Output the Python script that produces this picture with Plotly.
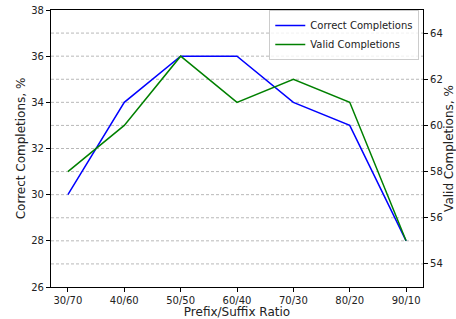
import plotly.graph_objects as go

ratios = ["30/70", "40/60", "50/50", "60/40", "70/30", "80/20", "90/10"]
correct = [30, 34, 36, 36, 34, 33, 28]
valid = [58, 60, 63, 61, 62, 61, 55]
left_ticks = [26, 28, 30, 32, 34, 36, 38]
right_ticks = [54, 56, 58, 60, 62, 64]

font = dict(family="DejaVu Sans", size=10, color="#222")

fig = go.Figure()
fig.add_trace(go.Scatter(x=list(range(len(ratios))), y=correct, mode="lines",
                         name="Correct Completions", line=dict(color="#0000ff", width=1.5)))
fig.add_trace(go.Scatter(x=list(range(len(ratios))), y=valid, mode="lines",
                         name="Valid Completions", line=dict(color="#008000", width=1.5),
                         yaxis="y2"))

# grid lines every 1 unit on left axis (dashed)
for g in range(27, 38):
    fig.add_shape(type="line", xref="paper", x0=0, x1=1, yref="y", y0=g, y1=g,
                  line=dict(color="#b8b8b8", width=1, dash="3px,2px"), layer="below")

axis_common = dict(showgrid=False, zeroline=False, showline=True, linecolor="black",
                   linewidth=1.2, ticks="outside", ticklen=4, tickwidth=1,
                   tickcolor="black", automargin=False,
                   tickfont=dict(family="DejaVu Sans", size=10, color="#222"))

fig.update_layout(
    width=456, height=319,
    margin=dict(l=51, r=33, t=10, b=32, autoexpand=False),
    paper_bgcolor="white", plot_bgcolor="white",
    font=font,
    showlegend=True,
    legend=dict(x=0.99, y=1.0, xanchor="right", yanchor="top",
                bgcolor="rgba(255,255,255,0.8)", bordercolor="#cccccc", borderwidth=1,
                font=dict(family="DejaVu Sans", size=10, color="#222"),
                tracegroupgap=0, itemwidth=30),
    xaxis=dict(tickmode="array", tickvals=list(range(len(ratios))), ticktext=ratios,
               range=[-0.3, 6.3], mirror=True,
               title=dict(text="Prefix/Suffix Ratio", standoff=1), **axis_common),
    yaxis=dict(range=[26, 38], tickvals=left_ticks,
               title=dict(text="Correct Completions, %", standoff=2), **axis_common),
    yaxis2=dict(range=[53, 65], tickvals=right_ticks, overlaying="y", side="right",
                title=dict(text="Valid Completions, %", standoff=4), **axis_common),
)

fig.write_html("out.html", config={"displayModeBar": False},
               post_script="document.body.style.margin='0';document.body.style.overflow='hidden';")
